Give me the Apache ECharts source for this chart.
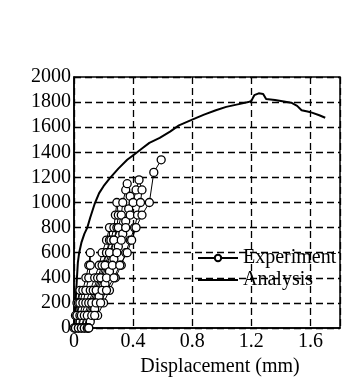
<!DOCTYPE html>
<html>
<head>
<meta charset="utf-8">
<script src="https://cdn.jsdelivr.net/npm/echarts@6/dist/echarts.min.js"></script>
<style>
  html, body { margin: 0; padding: 0; background: #fff; }
  #chart { width: 342px; height: 382px; }
</style>
</head>
<body>
<div id="chart"></div>
<script>
// Analysis curve (displacement mm, load kN)
const analysisDisp = [0, 0.005, 0.01, 0.015, 0.02, 0.026, 0.035, 0.05, 0.07, 0.09, 0.11, 0.14, 0.17, 0.20, 0.24, 0.30, 0.36, 0.41, 0.46, 0.51, 0.58, 0.65, 0.71, 0.80, 0.88, 0.96, 1.03, 1.10, 1.18, 1.20, 1.22, 1.25, 1.28, 1.30, 1.36, 1.42, 1.47, 1.51, 1.54, 1.58, 1.61, 1.66, 1.70];
const analysisLoad = [0, 100, 200, 300, 400, 520, 600, 680, 750, 800, 880, 990, 1075, 1130, 1190, 1270, 1340, 1385, 1430, 1475, 1515, 1565, 1615, 1660, 1700, 1735, 1762, 1780, 1800, 1810, 1855, 1870, 1865, 1825, 1817, 1805, 1795, 1770, 1735, 1725, 1716, 1695, 1675];

// Experiment: cyclic loading, points in test order
const expDisp = [
  0, 0.01, 0.02, 0.04, 0.03, 0.02, 0.01,
  0.01, 0.02, 0.04, 0.06, 0.08, 0.10, 0.11, 0.11, 0.10, 0.08, 0.06, 0.04, 0.03,
  0.03, 0.05, 0.08, 0.11, 0.14, 0.17, 0.19, 0.22, 0.24, 0.24, 0.22, 0.20, 0.17, 0.14, 0.11, 0.08, 0.05,
  0.05, 0.07, 0.10, 0.13, 0.16, 0.19, 0.22, 0.25, 0.27, 0.28, 0.29, 0.30, 0.29, 0.27, 0.25, 0.22, 0.19, 0.16, 0.13, 0.10, 0.07,
  0.07, 0.09, 0.12, 0.15, 0.18, 0.21, 0.24, 0.27, 0.30, 0.32, 0.33, 0.35, 0.36, 0.38, 0.37, 0.35, 0.33, 0.30, 0.27, 0.24, 0.21, 0.17, 0.14, 0.11, 0.09,
  0.09, 0.12, 0.15, 0.19, 0.22, 0.26, 0.29, 0.32, 0.35, 0.38, 0.40, 0.42, 0.44, 0.46, 0.45, 0.43, 0.41, 0.38, 0.35, 0.32, 0.28, 0.24, 0.20, 0.16, 0.10,
  0.10, 0.14, 0.18, 0.22, 0.27, 0.31, 0.36, 0.39, 0.42, 0.46, 0.51, 0.54, 0.59
];
const expLoad = [
  0, 100, 200, 300, 200, 100, 0,
  0, 100, 200, 300, 400, 500, 600, 500, 400, 300, 200, 100, 0,
  0, 100, 200, 300, 400, 500, 600, 700, 800, 700, 600, 500, 400, 300, 200, 100, 0,
  0, 100, 200, 300, 400, 500, 600, 700, 800, 900, 1000, 900, 800, 700, 600, 500, 400, 300, 200, 100, 0,
  0, 100, 200, 300, 400, 500, 600, 700, 800, 900, 1000, 1100, 1150, 1050, 950, 850, 750, 650, 550, 450, 350, 250, 150, 50, 0,
  0, 100, 200, 300, 400, 500, 600, 700, 800, 900, 1000, 1100, 1180, 1100, 1000, 900, 800, 700, 600, 500, 400, 300, 200, 100, 0,
  0, 100, 200, 300, 400, 500, 600, 700, 800, 900, 1000, 1240, 1340
];

const xTicks = [0, 0.4, 0.8, 1.2, 1.6];
const yMax = 2000;

const font = "'Liberation Serif', 'Times New Roman', serif";
const chart = echarts.init(document.getElementById("chart"), null, { renderer: "canvas" });

chart.setOption({
  animation: false,
  backgroundColor: "#fff",
  grid: {
    left: 74, right: 2, top: 77, bottom: 54,
    containLabel: false, outerBoundsMode: "none",
    show: true, borderColor: "#000", borderWidth: 1.5
  },
  legend: {
    orient: "vertical",
    left: 192, top: 243,
    itemWidth: 40, itemHeight: 8, itemGap: 2,
    textStyle: { fontFamily: font, fontSize: 20, color: "#000" },
    data: ["Experiment", { name: "Analysis", itemStyle: { opacity: 0 } }]
  },
  xAxis: {
    type: "value", min: 0, max: 1.8, interval: 0.4,
    name: "Displacement (mm)", nameLocation: "middle", nameGap: 26,
    nameTextStyle: { fontFamily: font, fontSize: 20, color: "#000", padding: [0, 0, 0, 26] },
    axisLine: { lineStyle: { color: "#000", width: 1.5 } },
    axisTick: { show: false },
    axisLabel: {
      fontFamily: font, fontSize: 20, color: "#000", margin: 4,
      formatter: v => (xTicks.includes(Math.round(v * 10) / 10) ? String(Math.round(v * 10) / 10) : "")
    },
    splitLine: { lineStyle: { color: "#000", type: [7, 4], width: 1.3 } }
  },
  yAxis: {
    type: "value", min: 0, max: yMax, interval: 200,
    name: "Load (kN)", nameLocation: "middle", nameGap: 52,
    nameTextStyle: { fontFamily: font, fontSize: 20, color: "#000", padding: [0, 0, 24, 0] },
    axisLine: { show: true, lineStyle: { color: "#000", width: 1.5 } },
    axisTick: { show: false },
    axisLabel: { fontFamily: font, fontSize: 20, color: "#000", margin: 3, formatter: v => String(v) },
    splitLine: { lineStyle: { color: "#000", type: [7, 4], width: 1.3 } }
  },
  series: [
    {
      name: "Analysis", type: "line",
      data: analysisDisp.map((d, i) => [d, analysisLoad[i]]),
      showSymbol: false, symbol: "none",
      lineStyle: { color: "#000", width: 2 },
      itemStyle: { color: "#000" },
      z: 2
    },
    {
      name: "Experiment", type: "line",
      data: expDisp.map((d, i) => [d, expLoad[i]]),
      symbol: "circle", symbolSize: 8,
      lineStyle: { color: "#000", width: 1 },
      itemStyle: { color: "#fff", borderColor: "#000", borderWidth: 1.3 },
      z: 3
    }
  ]
});
</script>
</body>
</html>
